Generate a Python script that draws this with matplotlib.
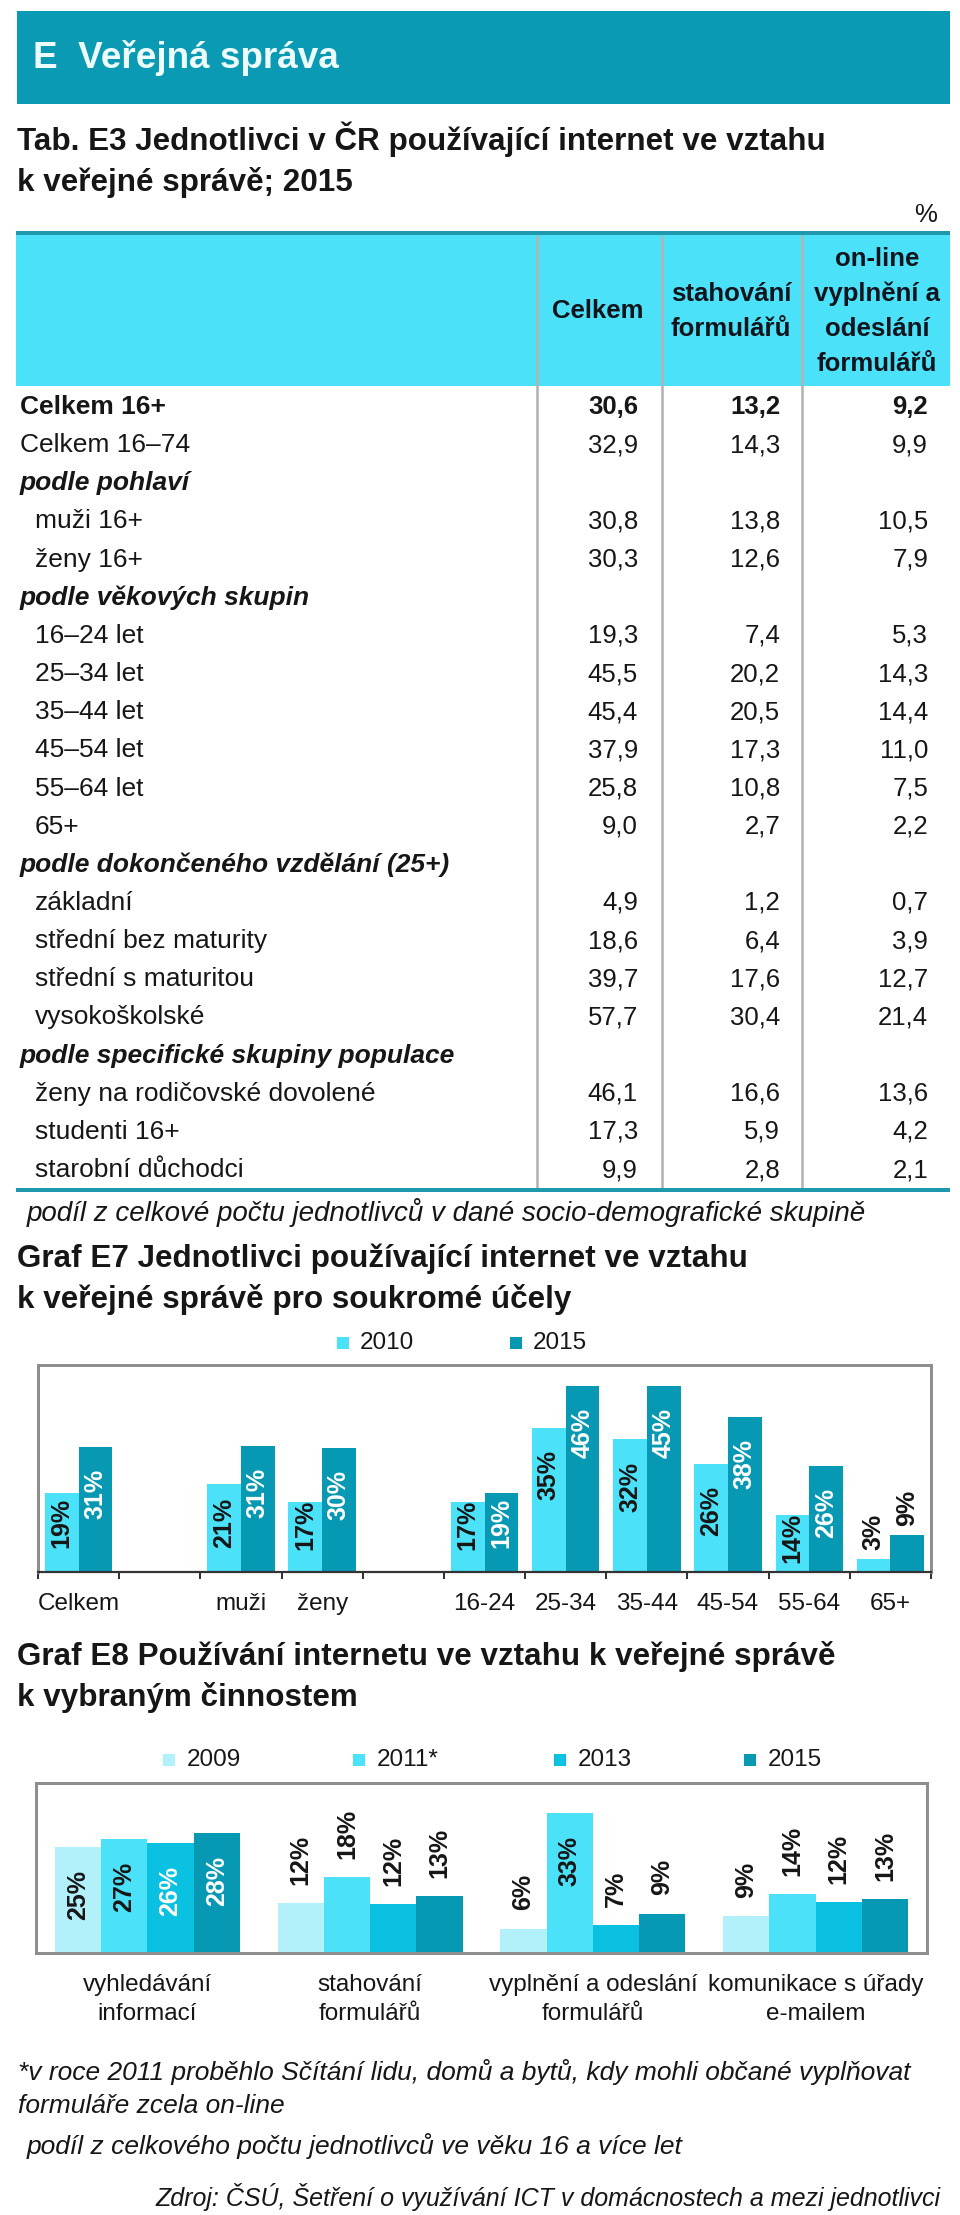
import numpy as np
import matplotlib
matplotlib.use("Agg")
import matplotlib.pyplot as plt
from matplotlib.patches import Rectangle

plt.rcParams['font.family'] = ['Liberation Sans', 'DejaVu Sans']

W, H = 960, 2215

# ------------------------------------------------------------------ data
section_title = "E  Veřejná správa"
table_title = ["Tab. E3 Jednotlivci v ČR používající internet ve vztahu",
               "k veřejné správě; 2015"]
unit_label = "%"
col_headers = [["Celkem"], ["stahování", "formulářů"],
               ["on-line", "vyplnění a", "odeslání", "formulářů"]]

row_labels = ["Celkem 16+", "Celkem 16–74", "podle pohlaví", "muži 16+", "ženy 16+",
              "podle věkových skupin", "16–24 let", "25–34 let", "35–44 let",
              "45–54 let", "55–64 let", "65+", "podle dokončeného vzdělání (25+)",
              "základní", "střední bez maturity", "střední s maturitou", "vysokoškolské",
              "podle specifické skupiny populace", "ženy na rodičovské dovolené",
              "studenti 16+", "starobní důchodci"]
row_kind = ["total", "plain", "group", "sub", "sub", "group", "sub", "sub", "sub",
            "sub", "sub", "sub", "group", "sub", "sub", "sub", "sub", "group",
            "sub", "sub", "sub"]
val_celkem = [30.6, 32.9, None, 30.8, 30.3, None, 19.3, 45.5, 45.4, 37.9, 25.8, 9.0,
              None, 4.9, 18.6, 39.7, 57.7, None, 46.1, 17.3, 9.9]
val_stahovani = [13.2, 14.3, None, 13.8, 12.6, None, 7.4, 20.2, 20.5, 17.3, 10.8, 2.7,
                 None, 1.2, 6.4, 17.6, 30.4, None, 16.6, 5.9, 2.8]
val_online = [9.2, 9.9, None, 10.5, 7.9, None, 5.3, 14.3, 14.4, 11.0, 7.5, 2.2,
              None, 0.7, 3.9, 12.7, 21.4, None, 13.6, 4.2, 2.1]
table_note = "podíl z celkové počtu jednotlivců v dané socio-demografické skupině"

e7_title = ["Graf E7 Jednotlivci používající internet ve vztahu",
            "k veřejné správě pro soukromé účely"]
e7_categories = ["Celkem", "", "muži", "ženy", "", "16-24", "25-34", "35-44",
                 "45-54", "55-64", "65+"]
e7_series = ["2010", "2015"]
e7_2010 = [19.2, np.nan, 21.4, 17.1, np.nan, 17.0, 35.2, 32.4, 26.3, 13.9, 3.2]
e7_2015 = [30.6, np.nan, 30.8, 30.3, np.nan, 19.3, 45.5, 45.4, 37.9, 25.8, 9.0]

e8_title = ["Graf E8 Používání internetu ve vztahu k veřejné správě",
            "k vybraným činnostem"]
e8_categories = ["vyhledávání\ninformací", "stahování\nformulářů",
                 "vyplnění a odeslání\nformulářů", "komunikace s úřady\ne-mailem"]
e8_series = ["2009", "2011*", "2013", "2015"]
e8_2009 = [24.6, 11.7, 5.7, 8.6]
e8_2011 = [26.6, 17.7, 32.7, 13.8]
e8_2013 = [25.7, 11.5, 6.6, 11.9]
e8_2015 = [28.0, 13.2, 9.2, 12.6]

footnote_lines = ["*v roce 2011 proběhlo Sčítání lidu, domů a bytů, kdy mohli občané vyplňovat",
                  "formuláře zcela on-line"]
e8_note = "podíl z celkového počtu jednotlivců ve věku 16 a více let"
source = "Zdroj: ČSÚ, Šetření o využívání ICT v domácnostech a mezi jednotlivci"

# ------------------------------------------------------------------ style
TEAL = "#0A9AB4"
CYAN = "#4BE2F9"
DARK = "#161616"
GRAY_FRAME = "#8E8E8E"
e7_colors = [CYAN, "#0799B3"]
e7_label_colors = [DARK, "white"]
e8_colors = ["#B2F0FA", CYAN, "#0AC1E1", "#0799B3"]
e8_label_colors = [DARK, DARK, "white", "white"]
TITLE_FS = 22.6
BODY_FS = 19
NUM_FS = 18.5
LABEL_FS = 18


def pt(px):
    return px * 0.72


fig = plt.figure(figsize=(W / 100, H / 100), dpi=100)
fig.patch.set_facecolor("white")

page = fig.add_axes([0, 0, 1, 1])
page.set_xlim(0, W)
page.set_ylim(H, 0)
page.axis("off")


def px_axes(x0, y0, x1, y1):
    return fig.add_axes([x0 / W, 1 - y1 / H, (x1 - x0) / W, (y1 - y0) / H])


# ---- header band
page.add_patch(Rectangle((17, 11), 933, 93, color=TEAL, lw=0))
page.text(33, 68, section_title, fontsize=26.6, fontweight="bold", color="#ECFCFF",
          va="baseline", ha="left")

# ---- table title
for i, line in enumerate(table_title):
    page.text(17, 150 + i * 41, line, fontsize=TITLE_FS, fontweight="bold", color=DARK,
              va="baseline", ha="left")
page.text(937, 222, unit_label, fontsize=18.5, color=DARK, ha="right", va="baseline")

# ---- table frame
tab_x0, tab_x1 = 16, 950
head_top, head_bot = 235, 386
page.add_patch(Rectangle((tab_x0, head_top), tab_x1 - tab_x0, head_bot - head_top,
                         color=CYAN, lw=0))
page.plot([tab_x0, tab_x1], [233, 233], color="#1F97AC", lw=pt(4), solid_capstyle="butt")
row_y0 = 414
row_dy = 38.15
table_bottom = 1190
for xs in [537, 662, 802]:
    page.plot([xs, xs], [head_top, table_bottom], color="#B3B3B3", lw=pt(2.6),
              solid_capstyle="butt")
page.plot([tab_x0, tab_x1], [table_bottom, table_bottom], color="#1F97AC", lw=pt(4),
          solid_capstyle="butt")

# column headers
col_centers = [598, 731, 877]
line_gap = 35
for cx, lines in zip(col_centers, col_headers):
    n = len(lines)
    y_mid = 311
    for j, line in enumerate(lines):
        yy = y_mid + (j - (n - 1) / 2) * line_gap
        page.text(cx, yy, line, fontsize=18.5, fontweight="bold", color="#10141c",
                  ha="center", va="center")

# rows
col_right = [638, 780, 928]
for i, lab in enumerate(row_labels):
    yb = row_y0 + i * row_dy
    kind = row_kind[i]
    if kind == "total":
        kw = dict(fontweight="bold")
        x = 20
    elif kind == "group":
        kw = dict(fontweight="bold", fontstyle="italic")
        x = 20
    elif kind == "plain":
        kw = dict()
        x = 20
    else:
        kw = dict()
        x = 35
    page.text(x, yb, lab, fontsize=BODY_FS, color=DARK, ha="left", va="baseline", **kw)
    for xr, col in zip(col_right, [val_celkem, val_stahovani, val_online]):
        v = col[i]
        if v is None:
            continue
        s = f"{v:.1f}".replace(".", ",")
        page.text(xr, yb, s, fontsize=NUM_FS, color=DARK, ha="right", va="baseline",
                  fontweight="bold" if kind == "total" else "normal")

page.text(27, 1212, table_note, fontsize=20, fontstyle="italic", color=DARK,
          ha="left", va="center")

# ---- Graf E7
for i, line in enumerate(e7_title):
    page.text(17, 1267 + i * 41, line, fontsize=TITLE_FS, fontweight="bold", color=DARK,
              va="baseline", ha="left")

leg7_x = [337, 510]
for xl, name, col in zip(leg7_x, e7_series, e7_colors):
    page.add_patch(Rectangle((xl, 1337), 12, 12, color=col, lw=0))
    page.text(xl + 23, 1343, name, fontsize=17.5, color=DARK, ha="left", va="center")

ax7 = px_axes(38, 1365, 931, 1572)
x7 = np.arange(len(e7_categories))
w7 = 0.415
for k, (vals, col, lcol) in enumerate(zip([e7_2010, e7_2015], e7_colors, e7_label_colors)):
    pos = x7 + (k - 0.5) * w7
    vals = np.asarray(vals, dtype=float)
    ax7.bar(pos, vals, width=w7, color=col, linewidth=0, zorder=2)
    for p, v in zip(pos, vals):
        if np.isnan(v):
            continue
        txt = f"{v:.0f}%"
        if v < 12:
            ax7.text(p, v + 2.3, txt, rotation=90, ha="center", va="bottom",
                     fontsize=LABEL_FS, fontweight="bold", color=DARK, zorder=3)
        else:
            c = max(v - 11.5, min(12.1, v - 5.6))
            ax7.text(p, c, txt, rotation=90, ha="center", va="center",
                     fontsize=LABEL_FS, fontweight="bold", color=lcol, zorder=3)
ax7.set_xlim(-0.5, len(e7_categories) - 0.5)
ax7.set_ylim(0, 50.6)
ax7.set_yticks([])
ax7.set_xticks(x7)
ax7.set_xticklabels(e7_categories, fontsize=17.5, color=DARK)
ax7.tick_params(axis="x", which="major", length=0, pad=15)
ax7.set_xticks(np.arange(-0.5, len(e7_categories), 1), minor=True)
ax7.tick_params(axis="x", which="minor", length=pt(7), width=pt(2), color="#333333",
                direction="out")
for side in ["left", "top", "right"]:
    ax7.spines[side].set_color(GRAY_FRAME)
    ax7.spines[side].set_linewidth(pt(3))
ax7.spines["bottom"].set_color("#333333")
ax7.spines["bottom"].set_linewidth(pt(2.2))

# ---- Graf E8
for i, line in enumerate(e8_title):
    page.text(17, 1665 + i * 41, line, fontsize=TITLE_FS, fontweight="bold", color=DARK,
              va="baseline", ha="left")

leg8_x = [163, 353, 554, 744]
for xl, name, col in zip(leg8_x, e8_series, e8_colors):
    page.add_patch(Rectangle((xl, 1754), 12, 12, color=col, lw=0))
    page.text(xl + 24, 1760, name, fontsize=17.5, color=DARK, ha="left", va="center")

ax8 = px_axes(36, 1783, 927, 1953)
x8 = np.arange(len(e8_categories))
w8 = 0.2076
for k, (vals, col, lcol) in enumerate(zip([e8_2009, e8_2011, e8_2013, e8_2015],
                                           e8_colors, e8_label_colors)):
    pos = x8 + (k - 1.5) * w8
    ax8.bar(pos, vals, width=w8, color=col, linewidth=0, zorder=2)
    for p, v in zip(pos, vals):
        txt = f"{v:.0f}%"
        if v >= 20:
            ax8.text(p, v - 11.2, txt, rotation=90, ha="center", va="center",
                     fontsize=LABEL_FS, fontweight="bold", color=lcol, zorder=3)
        else:
            ax8.text(p, v + 4.2, txt, rotation=90, ha="center", va="bottom",
                     fontsize=LABEL_FS, fontweight="bold", color=DARK, zorder=3)
ax8.set_xlim(-0.5, len(e8_categories) - 0.5)
ax8.set_ylim(0, 39.6)
ax8.set_yticks([])
ax8.set_xticks(x8)
ax8.set_xticklabels(e8_categories, fontsize=17.5, color=DARK, linespacing=1.4)
ax8.tick_params(axis="x", length=0, pad=15)
for side in ["left", "top", "right", "bottom"]:
    ax8.spines[side].set_color(GRAY_FRAME)
    ax8.spines[side].set_linewidth(pt(3))

# ---- footnotes
page.text(18, 2072, footnote_lines[0], fontsize=19, fontstyle="italic", color=DARK,
          ha="left", va="center")
page.text(18, 2106, footnote_lines[1], fontsize=19, fontstyle="italic", color=DARK,
          ha="left", va="center")
page.text(27, 2146, e8_note, fontsize=19, fontstyle="italic", color=DARK,
          ha="left", va="center")
page.text(940, 2197, source, fontsize=18, fontstyle="italic", color=DARK,
          ha="right", va="center")

fig.savefig("out.png", dpi=100, facecolor="white")
